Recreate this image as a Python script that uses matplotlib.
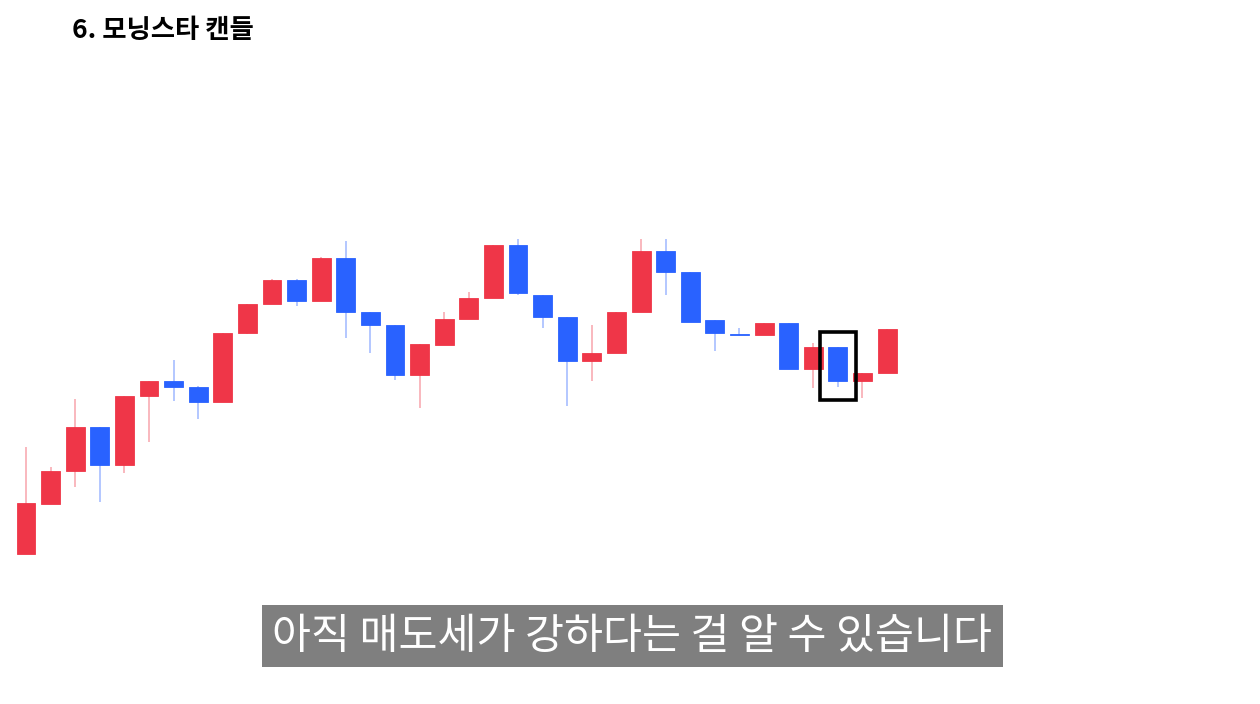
import numpy as np
import matplotlib
matplotlib.use('Agg')
import matplotlib.pyplot as plt
from matplotlib.patches import Rectangle

plt.rcParams['font.family'] = ['Noto Sans CJK KR', 'DejaVu Sans']

title = "6. 모닝스타 캔들"
caption = "아직 매도세가 강하다는 걸 알 수 있습니다"

# OHLC values
opens  = [46, 96, 128.7, 172.7, 135, 204.3, 219.3, 213, 198, 267, 296, 320,
          298.7, 341.7, 287.7, 275, 225, 255, 281, 302, 354.7, 304.7, 283, 239,
          247, 288.3, 348.7, 328, 280, 266.3, 264.7, 277.3, 230.7, 253, 219.3, 226.7]
highs  = [153.3, 132.7, 200.7, 172.7, 204.3, 219.3, 240, 214.3, 267.3, 296.3, 321, 321,
          342.7, 359.3, 287.7, 275, 255.7, 288.3, 308, 354.7, 360.7, 304.7, 283, 275.3,
          288.3, 360.7, 360.7, 328, 280, 271.7, 277.3, 277.3, 257.3, 253, 226.7, 271.3]
lows   = [46, 96, 113.3, 98.3, 126.7, 157.7, 199.3, 180.7, 198, 266, 296, 294,
          298.7, 262.3, 246.7, 220, 192.3, 255, 281, 302, 304.7, 271.7, 194.3, 219.3,
          247, 288.3, 304.7, 277.7, 249.3, 264.7, 264.7, 230.7, 211.7, 212.7, 202.3, 226.7]
closes = [96.7, 129, 172.7, 135, 204.3, 219.3, 212.7, 198, 267.3, 296.3, 320, 298.7,
          341.7, 287.7, 275, 225, 255.7, 281.3, 302.3, 354.7, 306.7, 283, 239, 247,
          288.3, 348.7, 328, 277.7, 266.7, 264.7, 277.3, 230.7, 253, 219.3, 226.7, 271.3]

highlight = 33  # the morning star middle candle

UP = '#EF3648'
DOWN = '#2962FF'

fig = plt.figure(figsize=(12.6, 7.04), dpi=100)
ax = fig.add_axes([0, 0, 1, 1])
ax.set_xlim(-1.057, 50.16)
ax.set_ylim(-104, 600)
ax.axis('off')

x = np.arange(len(opens))
for i, o, h, l, c in zip(x, opens, highs, lows, closes):
    col = UP if c >= o else DOWN
    ax.vlines(i, l, h, color=col, lw=1.1, alpha=0.45, zorder=1)
    ax.bar(i, max(abs(c - o), 1.5), bottom=min(o, c), width=0.77,
           color=col, edgecolor=col, lw=0.6, zorder=2)

# box around the highlighted candle
hl, hh = lows[highlight], highs[highlight]
ax.add_patch(Rectangle((highlight - 0.72, hl - 12.7), 1.44, hh - hl + 28,
                       fill=False, edgecolor='black', lw=2.6, zorder=3))

fig.text(72 / 1260, 1 - 31 / 704, title, fontsize=19, fontweight='heavy',
         va='center', ha='left', color='black')

# caption bar
fig.patches.append(Rectangle((262 / 1260, 1 - 667 / 704), 741 / 1260, 62 / 704,
                             transform=fig.transFigure, facecolor='#7f7f7f',
                             edgecolor='none'))
fig.text(632 / 1260, 1 - 637 / 704, caption, fontsize=30.5, fontweight='light',
         color='white', ha='center', va='center')

plt.savefig('out.png', dpi=100)
